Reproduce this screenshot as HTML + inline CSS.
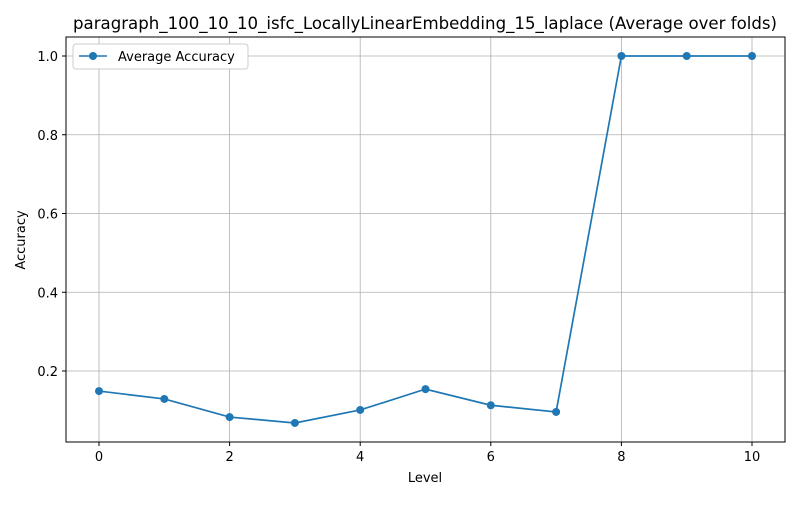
<!DOCTYPE html>
<html><head><meta charset="utf-8"><style>
body{margin:0;background:#fff;font-family:"Liberation Sans","DejaVu Sans",sans-serif;}
svg text{font-family:"DejaVu Sans","Liberation Sans",sans-serif;}
</style></head><body>
<svg id="chart" width="800" height="500" xmlns="http://www.w3.org/2000/svg">
<rect width="800" height="500" fill="#fff"/>
<text x="425" y="29" font-size="16.5" text-anchor="middle" textLength="704" lengthAdjust="spacingAndGlyphs" fill="#000">paragraph_100_10_10_isfc_LocallyLinearEmbedding_15_laplace (Average over folds)</text>
<g id="grid"></g>
<g id="axes"></g>
<g id="series"></g>
<rect x="66" y="37" width="719" height="405" fill="none" stroke="#000" stroke-width="1"/>
<text x="425" y="482" font-size="13" text-anchor="middle">Level</text>
<text x="25" y="240" font-size="13" text-anchor="middle" transform="rotate(-90 25 240)">Accuracy</text>
<g>
<rect x="73" y="44" width="175" height="25" rx="3" fill="#fff" stroke="#ccc"/>
<line x1="79" y1="56" x2="107" y2="56" stroke="#1f77b4" stroke-width="1.5"/>
<circle cx="93" cy="56" r="4" fill="#1f77b4"/>
<text x="118" y="61" font-size="13">Average Accuracy</text>
</g>
</svg>
<script>
const levels=[0,1,2,3,4,5,6,7,8,9,10];
const accuracy=[0.149,0.129,0.083,0.068,0.101,0.154,0.113,0.096,1.0,1.0,1.0];
const xTicks=[0,2,4,6,8,10];
const yTicks=[0.2,0.4,0.6,0.8,1.0];
const NS="http://www.w3.org/2000/svg";
const xScale=v=>99+v*65.3;
const yScale=v=>56+(1.0-v)*393.75;
function mk(t,a,p){const e=document.createElementNS(NS,t);for(const k in a)e.setAttribute(k,a[k]);p.appendChild(e);return e;}
const grid=document.getElementById('grid'),axes=document.getElementById('axes'),ser=document.getElementById('series');
xTicks.forEach(v=>{const x=xScale(v);
const g=mk('line',{x1:x,x2:x,y1:37,y2:442,stroke:'#b0b0b0','stroke-width':0.8},grid);


mk('line',{x1:x,x2:x,y1:442,y2:446,stroke:'#000'},axes);
const t=mk('text',{x:x,y:461,'font-size':13,'text-anchor':'middle'},axes);t.textContent=v;

});
yTicks.forEach(v=>{const y=yScale(v);
const g=mk('line',{x1:66,x2:785,y1:y,y2:y,stroke:'#b0b0b0','stroke-width':0.8},grid);


mk('line',{x1:62,x2:66,y1:y,y2:y,stroke:'#000'},axes);
const t=mk('text',{x:58,y:y+5,'font-size':13,'text-anchor':'end'},axes);t.textContent=v.toFixed(1);

});
const pts=levels.map((l,i)=>xScale(l)+','+yScale(accuracy[i])).join(' ');
const pl=mk('polyline',{points:pts,fill:'none',stroke:'#1f77b4','stroke-width':1.7},ser);


levels.forEach((l,i)=>{const c=mk('circle',{cx:xScale(l),cy:yScale(accuracy[i]),r:4,fill:'#1f77b4'},ser);

});
</script>
</body></html>
